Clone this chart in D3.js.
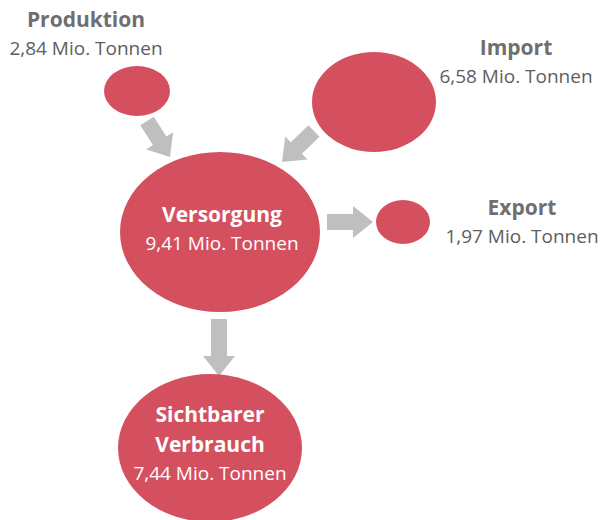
<!DOCTYPE html>
<meta charset="utf-8">
<style>
body { margin: 0; background: #fff; }
svg { display: block; font-family: "Open Sans", sans-serif; }
.title { font-weight: 700; font-size: 21px; fill: #6f6f6f; }
.value { font-size: 19px; fill: #5e5e5e; }
.inside .title, .inside .value { fill: #fff; }
</style>
<body>
<svg width="603" height="520"></svg>
<script src="https://d3js.org/d3.v7.min.js"></script>
<script>

// the numbers (Mio. Tonnen)
var nodeNames = ["Produktion", "Import", "Versorgung", "Export", "Sichtbarer Verbrauch"];
var nodeValues = [2.84, 6.58, 9.41, 1.97, 7.44];
var flows = [
  ["Produktion", "Versorgung"],
  ["Import", "Versorgung"],
  ["Versorgung", "Export"],
  ["Versorgung", "Sichtbarer Verbrauch"]
];

// layout only: where each bubble sits and how big it is drawn,
// plus where its label goes (labels of small bubbles sit beside them)
var layout = {
  "Produktion":           {cx: 137, cy: 91,  rx: 33,  ry: 25, lx: 86,  ly: 27,  inside: false},
  "Import":               {cx: 374, cy: 102, rx: 62,  ry: 50, lx: 516, ly: 55,  inside: false},
  "Versorgung":           {cx: 220, cy: 232, rx: 100, ry: 80, lx: 222, ly: 222, inside: true},
  "Export":               {cx: 403, cy: 222, rx: 27,  ry: 22, lx: 522, ly: 215, inside: false},
  "Sichtbarer Verbrauch": {cx: 210, cy: 448, rx: 92,  ry: 74, lx: 210, ly: 422, inside: true}
};
// arrow tail / tip for each flow
var arrowPos = [
  {x1: 147, y1: 121, x2: 170, y2: 157},
  {x1: 314, y1: 131, x2: 282, y2: 162},
  {x1: 327, y1: 222, x2: 373, y2: 222},
  {x1: 219, y1: 319, x2: 219, y2: 376}
];

var de = d3.formatLocale({decimal: ",", thousands: ".", grouping: [3], currency: ["", " €"]});
var fmt = de.format(".2f");

var svg = d3.select("svg");

var nodes = nodeNames.map(function(n, i) {
  return Object.assign({name: n, value: nodeValues[i]}, layout[n]);
});

// block arrow polygon from tail to tip
function arrowPath(a) {
  var dx = a.x2 - a.x1, dy = a.y2 - a.y1;
  var len = Math.sqrt(dx * dx + dy * dy);
  var ux = dx / len, uy = dy / len, px = -uy, py = ux;
  var sw = 8, hw = 16, hl = Math.min(20, len * 0.45);
  var bx = a.x2 - ux * hl, by = a.y2 - uy * hl;
  var pts = [
    [a.x1 + px * sw, a.y1 + py * sw],
    [bx + px * sw, by + py * sw],
    [bx + px * hw, by + py * hw],
    [a.x2, a.y2],
    [bx - px * hw, by - py * hw],
    [bx - px * sw, by - py * sw],
    [a.x1 - px * sw, a.y1 - py * sw]
  ];
  return d3.line()(pts) + "Z";
}

svg.append("g").selectAll("path")
  .data(flows)
  .enter().append("path")
    .attr("d", function(d, i) { return arrowPath(arrowPos[i]); })
    .attr("fill", "#bfbfbf");

svg.append("g").selectAll("ellipse")
  .data(nodes)
  .enter().append("ellipse")
    .attr("cx", function(d) { return d.cx; })
    .attr("cy", function(d) { return d.cy; })
    .attr("rx", function(d) { return d.rx; })
    .attr("ry", function(d) { return d.ry; })
    .attr("fill", "#d4505f");

var labels = svg.append("g").selectAll("text")
  .data(nodes)
  .enter().append("text")
    .attr("class", function(d) { return d.inside ? "inside" : ""; })
    .attr("text-anchor", "middle");

labels.each(function(d) {
  var t = d3.select(this);
  var words = d.name === "Sichtbarer Verbrauch" ? ["Sichtbarer", "Verbrauch"] : [d.name];
  words.forEach(function(w, i) {
    t.append("tspan")
      .attr("class", "title")
      .attr("x", d.lx)
      .attr("y", d.ly + i * 30)
      .text(w);
  });
  t.append("tspan")
    .attr("class", "value")
    .attr("x", d.lx)
    .attr("y", d.ly + (words.length - 1) * 30 + 28)
    .text(fmt(d.value) + " Mio. Tonnen");
});

</script>
